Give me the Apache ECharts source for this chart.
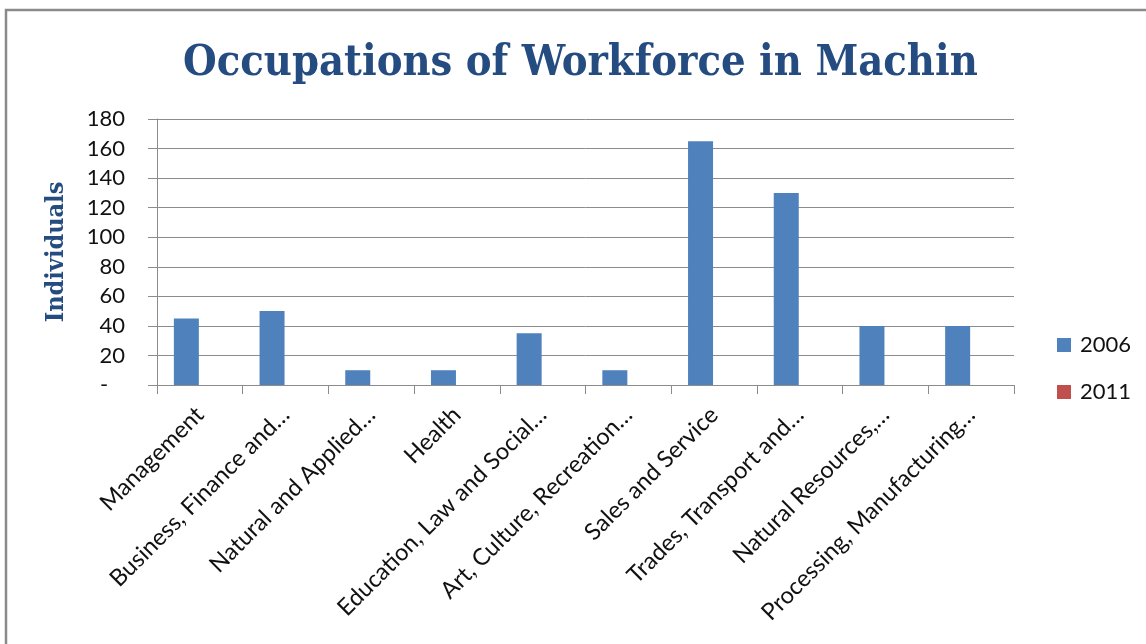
<!DOCTYPE html>
<html>
<head>
<meta charset="utf-8">
<script src="https://cdn.jsdelivr.net/npm/echarts@6/dist/echarts.min.js"></script>
<style>
  html, body { margin: 0; padding: 0; background: #fff; }
  #chart { width: 1146px; height: 644px; }
</style>
</head>
<body>
<div id="chart"></div>
<script>
// Occupation categories (labels as shown on the axis)
const categories = [
  'Management',
  'Business, Finance and…',
  'Natural and Applied…',
  'Health',
  'Education, Law and Social…',
  'Art, Culture, Recreation…',
  'Sales and Service',
  'Trades, Transport and…',
  'Natural Resources,…',
  'Processing, Manufacturing…'
];

// Number of individuals per occupation
const values2006 = [45, 50, 10, 10, 35, 10, 165, 130, 40, 40];
const values2011 = [0, 0, 0, 0, 0, 0, 0, 0, 0, 0];

const seriesNames = ['2006', '2011'];

// Value axis range
const yMin = 0;
const yMax = 180;
const yStep = 20;

const labelFont = "Lato, 'Open Sans', sans-serif";
const headFont = "'DejaVu Serif Condensed', 'DejaVu Serif', 'Liberation Serif', serif";
const gridGray = '#8c8c8c';

const chart = echarts.init(document.getElementById('chart'), null, { renderer: 'canvas' });

chart.setOption({
  backgroundColor: '#ffffff',
  animation: false,
  graphic: [{
    type: 'rect',
    shape: { x: 6, y: 10, width: 1300, height: 800 },
    style: { fill: 'none', stroke: '#8a8a8a', lineWidth: 2.5 },
    silent: true,
    z: -10
  }],
  title: {
    text: 'Occupations of Workforce in Machin',
    left: 183,
    top: 42,
    padding: 0,
    textStyle: {
      fontFamily: headFont,
      fontWeight: 'bold',
      fontSize: 43,
      color: '#254c80'
    }
  },
  legend: {
    orient: 'vertical',
    left: 1052,
    top: 329,
    itemWidth: 14,
    itemHeight: 14,
    itemGap: 25,
    icon: 'rect',
    data: seriesNames,
    textStyle: {
      fontFamily: labelFont,
      fontSize: 22,
      lineHeight: 22,
      color: '#111',
      padding: [0, 0, 0, 4]
    }
  },
  grid: {
    left: 157,
    right: 132,
    top: 119,
    bottom: 259,
    containLabel: false
  },
  xAxis: {
    type: 'category',
    data: categories,
    axisLine: { show: true, lineStyle: { color: gridGray, width: 1 } },
    axisTick: { show: true, length: 9, lineStyle: { color: gridGray } },
    axisLabel: {
      interval: 0,
      rotate: 45,
      margin: 26,
      fontFamily: labelFont,
      fontSize: 23.5,
      color: '#111'
    },
    splitLine: { show: false }
  },
  yAxis: {
    type: 'value',
    min: yMin,
    max: yMax,
    interval: yStep,
    name: 'Individuals',
    nameLocation: 'middle',
    nameGap: 88,
    nameTextStyle: {
      fontFamily: headFont,
      fontWeight: 'bold',
      fontSize: 25,
      color: '#254c80'
    },
    axisLine: { show: true, lineStyle: { color: gridGray, width: 1 } },
    axisTick: { show: true, length: 9, lineStyle: { color: gridGray } },
    axisLabel: {
      margin: 32,
      fontFamily: labelFont,
      fontSize: 22,
      color: '#111',
      formatter: v => (v === 0 ? '-   ' : String(v))
    },
    splitLine: { show: true, lineStyle: { color: gridGray, width: 1 } }
  },
  series: [
    {
      name: seriesNames[0],
      type: 'bar',
      data: values2006,
      barWidth: 25,
      barGap: '8%',
      itemStyle: { color: '#4f81bd' }
    },
    {
      name: seriesNames[1],
      type: 'bar',
      data: values2011,
      barWidth: 25,
      itemStyle: { color: '#c0504d' }
    }
  ]
});
</script>
</body>
</html>
